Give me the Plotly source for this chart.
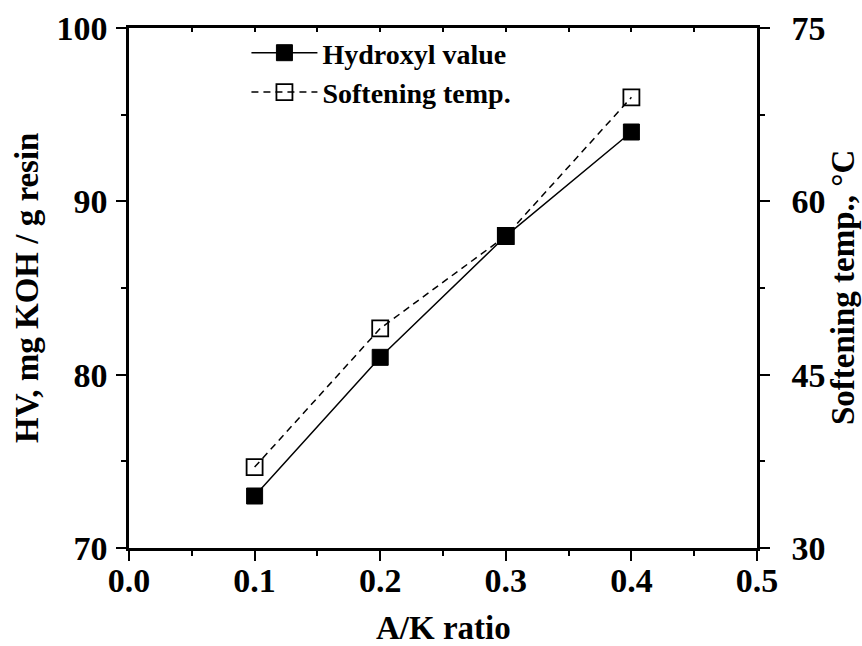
import plotly.graph_objects as go

ratio = [0.1, 0.2, 0.3, 0.4]
hydroxyl_value = [73, 81, 88, 94]
softening_temp = [37, 49, 57, 69]

x_ticks = [0.0, 0.1, 0.2, 0.3, 0.4, 0.5]
x_ticklabels = ["0.0", "0.1", "0.2", "0.3", "0.4", "0.5"]
hv_ticks = [70, 80, 90, 100]
hv_ticklabels = ["70", "80", "90", "100"]
st_ticks = [30, 45, 60, 75]
st_ticklabels = ["30", "45", "60", "75"]

FONT = "Liberation Serif"
BLACK = "black"

def bold(labels):
    return ["<b>%s</b>" % s for s in labels]

fig = go.Figure()
fig.add_trace(go.Scatter(
    x=ratio, y=hydroxyl_value, name="Hydroxyl value", mode="lines+markers",
    line=dict(color=BLACK, width=1.5),
    marker=dict(symbol="square", size=16, color=BLACK, line=dict(color=BLACK, width=1)),
    xaxis="x", yaxis="y"))
fig.add_trace(go.Scatter(
    x=ratio, y=softening_temp, name="Softening temp.", mode="lines+markers",
    line=dict(color=BLACK, width=1.5, dash="7px,5px"),
    marker=dict(symbol="square-open", size=16, color=BLACK, line=dict(color=BLACK, width=1.8)),
    xaxis="x2", yaxis="y2"))

tickfont = dict(family=FONT, size=34, color=BLACK)
titlefont = dict(family=FONT, size=33, color=BLACK)

fig.update_layout(
    width=862, height=646,
    margin=dict(l=129, r=105, t=28, b=98, autoexpand=False),
    paper_bgcolor="white", plot_bgcolor="white",
    showlegend=True,
    legend=dict(x=0.187, y=1.0, xanchor="left", yanchor="top",
                font=dict(family=FONT, size=28, color=BLACK, weight="bold"),
                bgcolor="rgba(0,0,0,0)", tracegroupgap=0, itemwidth=66),
    xaxis=dict(range=[0, 0.5], tickvals=x_ticks, ticktext=bold(x_ticklabels), automargin=False,
               showline=True, linecolor=BLACK, linewidth=2.5, mirror=True,
               ticks="outside", ticklen=10, tickwidth=2, tickcolor=BLACK,
               minor=dict(dtick=0.05, ticks="outside", ticklen=5, tickwidth=2, tickcolor=BLACK),
               showgrid=False, zeroline=False, tickfont=tickfont, ticklabelstandoff=-10),
    xaxis2=dict(range=[0, 0.5], overlaying="x", side="top", automargin=False,
                showline=False, ticks="inside", ticklen=4, tickwidth=1.5, tickcolor=BLACK,
                dtick=0.05, showticklabels=False, showgrid=False, zeroline=False),
    yaxis=dict(range=[70, 100], tickvals=hv_ticks, ticktext=bold(hv_ticklabels), automargin=False,
               showline=True, linecolor=BLACK, linewidth=2.5,
               ticks="outside", ticklen=10, tickwidth=2, tickcolor=BLACK,
               minor=dict(dtick=5, ticks="outside", ticklen=5, tickwidth=2, tickcolor=BLACK),
               showgrid=False, zeroline=False, tickfont=tickfont, ticklabelstandoff=2),
    yaxis2=dict(range=[30, 75], tickvals=st_ticks, ticktext=bold(st_ticklabels),
                overlaying="y", side="right", automargin=False,
                showline=True, linecolor=BLACK, linewidth=2.5,
                ticks="outside", ticklen=10, tickwidth=2, tickcolor=BLACK,
                minor=dict(dtick=7.5, ticks="outside", ticklen=5, tickwidth=2, tickcolor=BLACK),
                showgrid=False, zeroline=False, tickfont=tickfont, ticklabelstandoff=15),
    annotations=[
        dict(text="<b>A/K ratio</b>", xref="paper", yref="paper", x=0.5, y=-0.153,
             xanchor="center", yanchor="middle", showarrow=False, font=titlefont),
        dict(text="<b>HV, mg KOH / g resin</b>", xref="paper", yref="paper", x=-0.1624, y=0.5,
             xanchor="center", yanchor="middle", textangle=-90, showarrow=False, font=titlefont),
        dict(text="<b>Softening temp., °C</b>", xref="paper", yref="paper", x=1.137, y=0.5,
             xanchor="center", yanchor="middle", textangle=-90, showarrow=False, font=titlefont),
    ],
)

fig.write_html("out.html")
